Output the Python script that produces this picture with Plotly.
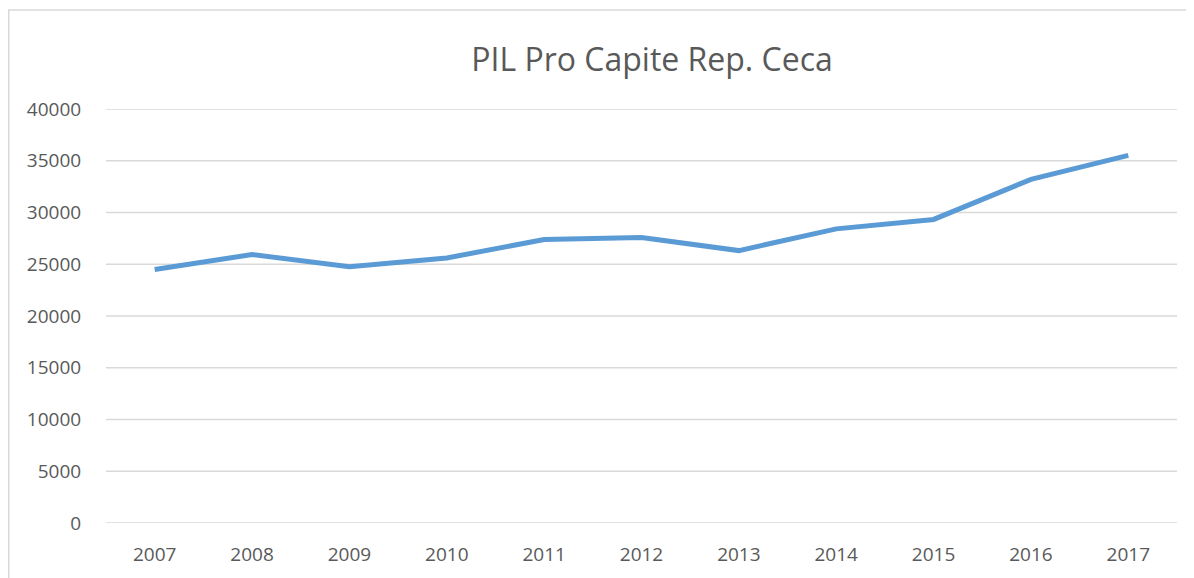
import plotly.graph_objects as go

years = ["2007", "2008", "2009", "2010", "2011", "2012", "2013", "2014", "2015", "2016", "2017"]
pil = [24490, 25940, 24750, 25610, 27390, 27590, 26320, 28420, 29330, 33200, 35520]
y_ticks = [0, 5000, 10000, 15000, 20000, 25000, 30000, 35000, 40000]

fig = go.Figure()
fig.add_trace(go.Scatter(
    x=list(range(len(years))), y=pil, mode="lines",
    line=dict(color="#5B9BD5", width=5, shape="linear"),
    hoverinfo="skip", showlegend=False,
))

# page has an 8px body margin; figure coordinates = page - 8
W, H = 1186, 570
left, right, top, bottom = 98, 1169, 101, 515.3

grid_shapes = [dict(type="line", xref="paper", yref="y", x0=0, x1=1, y0=v, y1=v,
                    line=dict(color="#D9D9D9", width=1.3), layer="below")
               for v in y_ticks]

fig.update_layout(
    width=W, height=H,
    margin=dict(l=left, r=W - right, t=top, b=H - bottom),
    paper_bgcolor="white", plot_bgcolor="white",
    font=dict(family="Open Sans", color="#595959", size=19),
    title=dict(text="PIL Pro Capite Rep. Ceca", x=(644 - left) / (right - left),
               xanchor="center", y=1 - 52 / H, yanchor="middle", xref="paper",
               font=dict(size=32, color="#595959")),
    xaxis=dict(tickmode="array", tickvals=list(range(len(years))), ticktext=years,
               range=[-0.5, len(years) - 0.5], showgrid=False, zeroline=False,
               showline=False, ticks="outside", ticklen=14, automargin=False,
               tickcolor="rgba(0,0,0,0)", fixedrange=True),
    yaxis=dict(tickmode="array", tickvals=y_ticks, ticktext=[str(v) for v in y_ticks],
               range=[0, 40000], showgrid=False, zeroline=False, automargin=False,
               showline=False, ticks="outside", ticklen=20,
               tickcolor="rgba(0,0,0,0)", fixedrange=True),
    shapes=grid_shapes + [dict(type="rect", xref="paper", yref="paper",
                 x0=(0.75 - left) / (right - left), x1=(1300 - left) / (right - left),
                 y0=(bottom - 700) / (bottom - top), y1=(bottom - 2) / (bottom - top),
                 line=dict(color="#D9D9D9", width=1.5), fillcolor="rgba(0,0,0,0)",
                 layer="below")],
)
fig.write_html("out.html")
